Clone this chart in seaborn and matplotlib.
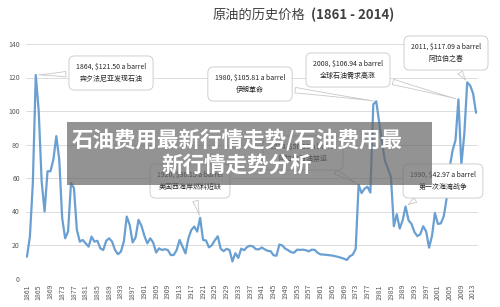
import matplotlib
matplotlib.use('Agg')
import matplotlib.pyplot as plt
import seaborn as sns
import pandas as pd

# crude oil price, US$ per barrel (2014 money), 1861 - 2014
years = list(range(1861, 2015))
prices = [
    13, 25, 57, 121.5, 100, 58, 40, 64, 64,                      # 1861-1869
    71, 85, 71, 36, 24, 28, 57, 54, 29, 22,                      # 1870s
    23, 21, 19, 25, 22, 22.5, 18, 17, 22.5, 24,                  # 1880s
    22, 17, 14.5, 16, 22, 37, 32, 21.5, 24.5, 35,                # 1890s
    31.5, 25.5, 21, 24, 21.5, 15.5, 18, 17, 17.5, 17,            # 1900s
    14, 14, 17, 23, 19, 15, 24, 29, 31, 28,                      # 1910s
    36.2, 23, 22.7, 18.6, 19.9, 22.8, 25.2, 17.8, 16.3, 17.7,    # 1920s
    17, 10.2, 15.1, 12.3, 17.8, 16.9, 18.8, 19.6, 19.1, 17.5,    # 1930s
    17.4, 18.5, 17.4, 16.5, 16.3, 13.9, 13.6, 20.3, 19.7, 17.8,  # 1940s
    16.9, 15.7, 15.4, 17.2, 17.1, 17.2, 16.9, 16.2, 17.2, 17.1,  # 1950s
    15.4, 14.4, 14.3, 14.1, 13.9, 13.7, 13.3, 12.9, 12.4, 11.8,  # 1960s
    11.1, 13.3, 14.2, 17.7, 56, 51, 53.6, 54.8, 51.3, 104,       # 1970s
    105.81, 93.5, 80.8, 70, 65.5, 60.6, 31.2, 38.4, 29.8, 34.8,  # 1980s
    42.97, 34.8, 32.6, 27.8, 25.3, 26.4, 31.2, 28.1, 18.4, 25.5, # 1990s
    39.1, 32.6, 32.9, 37.1, 47.9, 66, 76.4, 82.5, 106.94, 67.9,  # 2000s
    86.2, 117.09, 115.2, 110.4, 98.95,                           # 2010-2014
]
tick_years = list(range(1861, 2014, 4))
y_ticks = [0, 20, 40, 60, 80, 100, 120, 140]

# callouts: year, first line, second line
note_years = [1864, 1920, 1974, 1980, 1990, 2008, 2011]
note_line1 = ['1864, $121.50 a barrel', '1920, $36.15 a barrel',
              '1974, $56.55 a barrel', '1980, $105.81 a barrel',
              '1990, $42.97 a barrel', '2008, $106.94 a barrel',
              '2011, $117.09 a barrel']
note_line2 = ['宾夕法尼亚发现石油', '美国西海岸燃料短缺', '阿拉伯石油禁运',
              '伊朗革命', '第一次海湾战争', '全球石油需求高涨', '阿拉伯之春']
# box centres in image pixels (x from left, y from top)
note_pos = [(111, 73), (190, 181), (303, 153), (250, 84),
            (443, 181), (348, 70), (446, 53)]

df = pd.DataFrame({'year': years, 'price': prices})

sns.set_style('whitegrid')
plt.rcParams['font.family'] = ['Noto Sans CJK SC', 'DejaVu Sans']

W, H = 500, 307
fig = plt.figure(figsize=(W / 100, H / 100), dpi=100)
ax = fig.add_axes([25.5 / W, 28.5 / H, 452 / W, 234.5 / H])

sns.lineplot(data=df, x='year', y='price', ax=ax, color='#6a9fd2', lw=1.6)

ax.set_xlim(1860.5, 2014.5)
ax.set_ylim(0, 140)
ax.set_xticks(tick_years)
ax.set_xticklabels([str(y) for y in tick_years], rotation=90)
ax.set_yticks(y_ticks)
ax.set_xlabel('')
ax.set_ylabel('')
ax.grid(axis='x', visible=False)
ax.grid(axis='y', color='#dcdcdc', lw=0.7)
for s in ax.spines.values():
    s.set_visible(False)
ax.tick_params(length=0, labelsize=5, colors='#595959', pad=4)

price_of = dict(zip(years, prices))
for yr, l1, l2, (cx, cy) in zip(note_years, note_line1, note_line2, note_pos):
    ax.annotate(l1 + '\n' + l2, xy=(yr, price_of[yr]),
                xytext=(cx, H - cy), textcoords='figure pixels',
                ha='center', va='center', fontsize=5, color='#262626',
                linespacing=1.7,
                bbox=dict(boxstyle='round,pad=1.0,rounding_size=0.8',
                          fc='white', ec='#c8c8c8', lw=0.6),
                arrowprops=dict(arrowstyle='wedge,tail_width=0.8,shrink_factor=0.4',
                                fc='white', ec='#c8c8c8', lw=0.6))

# title
fig.text(305 / W, 1 - 15 / H, '原油的历史价格', ha='right', va='center',
         fontsize=9.5, color='#404040')
fig.text(311 / W, 1 - 15 / H, '(1861 - 2014)', ha='left', va='center',
         fontsize=9.5, color='#404040', fontweight='bold')

# watermark banner
fig.patches.append(plt.Rectangle((67 / W, 1 - 185 / H), 365 / W, 63 / H,
                                 transform=fig.transFigure, fc='#666666',
                                 alpha=0.7, ec='none', zorder=5))
fig.text(237 / W, 1 - 140 / H, '石油费用最新行情走势/石油费用最',
         ha='center', va='center', fontsize=15.5, color='white',
         fontweight='bold', zorder=6)
fig.text(237 / W, 1 - 165 / H, '新行情走势分析',
         ha='center', va='center', fontsize=15.5, color='white',
         fontweight='bold', zorder=6)

fig.savefig('out.png', dpi=100)
